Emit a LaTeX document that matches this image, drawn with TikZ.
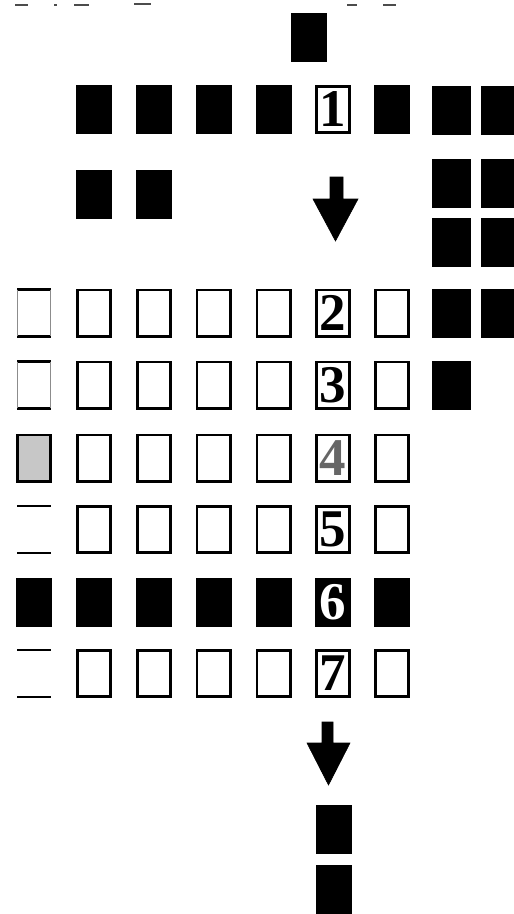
\documentclass[tikz,border=0pt]{standalone}
\usepackage{fontspec}
\setmainfont{Liberation Serif}
\begin{document}
\begin{tikzpicture}[x=1pt,y=-1pt,
  card/.style={draw=black, line width=2.6pt, fill=white, minimum width=33.4pt, minimum height=46.4pt, inner sep=0pt},
  dark/.style={card, fill=black},
  wide/.style={minimum width=36pt},
  grey/.style={card, fill=black!22},
  ghost/.style={minimum width=33.4pt, minimum height=46.4pt, inner sep=0pt},
  edge/.style={line width=2.6pt},
  faint/.style={line width=0.9pt, draw=black!45},
  numfont/.style={font=\bfseries\fontsize{53}{53}\selectfont},
  blockarrow/.style={fill=black, draw=black, line width=0.6pt, line join=miter},
  speck/.style={line width=1.2pt, draw=black!70}]
\useasboundingbox (0,0) rectangle (514,914);
% scan specks along the top edge
\draw[speck] (15,5) -- (28,5); \draw[speck] (54,5) -- (57,5);
\draw[speck] (74,5) -- (89,5); \draw[speck] (134,4) -- (151,4);
\draw[speck] (347,5) -- (357,5); \draw[speck] (383,5) -- (396,5);
% top card
\node[dark] (top) at (309,37.5) {};
% row 1
\node[dark] (a1) at (94,109.5) {};
\node[dark] (a2) at (154,109.5) {};
\node[dark] (a3) at (213.5,109.5) {};
\node[dark] (a4) at (273.5,109.5) {};
\node[card,numfont] (a5) at (333,109.5) {1};
\node[dark] (a6) at (392,109.5) {};
\node[dark,wide] (a7) at (451.5,110) {};
\node[dark,wide] (a8) at (500,110) {};
% two cards under row 1
\node[dark] (b1) at (94,194.5) {};
\node[dark] (b2) at (154,194.5) {};
% right stack
\node[dark,wide] (s1) at (451.5,183) {};
\node[dark,wide] (s2) at (500,183) {};
\node[dark,wide] (s3) at (451.5,242) {};
\node[dark,wide] (s4) at (500,242) {};
\node[dark,wide] (s5) at (451.5,313) {};
\node[dark,wide] (s6) at (500,313) {};
\node[dark,wide] (s7) at (451.5,385) {};
% first arrow
\path[blockarrow] (330,177) -- (343,177) -- (343,199) -- (358,199) -- (335.5,241) -- (313,199) -- (330,199) -- cycle;
% row 2
\node[ghost] (c0) at (34,313) {};
\draw[edge] (c0.north west) -- (c0.north east); \draw[edge] (c0.south west) -- (c0.south east);
\draw[faint] (c0.north west) -- (c0.south west); \draw[faint] (c0.north east) -- (c0.south east);
\node[card] (c1) at (94,313) {};
\node[card] (c2) at (154,313) {};
\node[card] (c3) at (213.5,313) {};
\node[card] (c4) at (273.5,313) {};
\node[card,numfont] (c5) at (333,313) {2};
\node[card] (c6) at (392,313) {};
% row 3
\node[ghost] (d0) at (34,385) {};
\draw[edge] (d0.north west) -- (d0.north east); \draw[edge] (d0.south west) -- (d0.south east);
\draw[faint] (d0.north west) -- (d0.south west); \draw[faint] (d0.north east) -- (d0.south east);
\node[card] (d1) at (94,385) {};
\node[card] (d2) at (154,385) {};
\node[card] (d3) at (213.5,385) {};
\node[card] (d4) at (273.5,385) {};
\node[card,numfont] (d5) at (333,385) {3};
\node[card] (d6) at (392,385) {};
% row 4
\node[grey] (e0) at (34,458) {};
\node[card] (e1) at (94,458) {};
\node[card] (e2) at (154,458) {};
\node[card] (e3) at (213.5,458) {};
\node[card] (e4) at (273.5,458) {};
\node[card,numfont,text=black!60] (e5) at (333,458) {4};
\node[card] (e6) at (392,458) {};
% row 5
\node[ghost] (f0) at (34,529.5) {};
\draw[edge] (f0.north west) -- (f0.north east); \draw[edge] (f0.south west) -- (f0.south east);
\node[card] (f1) at (94,529.5) {};
\node[card] (f2) at (154,529.5) {};
\node[card] (f3) at (213.5,529.5) {};
\node[card] (f4) at (273.5,529.5) {};
\node[card,numfont] (f5) at (333,529.5) {5};
\node[card] (f6) at (392,529.5) {};
% row 6
\node[dark] (g0) at (34,602) {};
\node[dark] (g1) at (94,602) {};
\node[dark] (g2) at (154,602) {};
\node[dark] (g3) at (213.5,602) {};
\node[dark] (g4) at (273.5,602) {};
\node[dark,numfont,text=white] (g5) at (333,602) {6};
\node[dark] (g6) at (392,602) {};
% row 7
\node[ghost] (h0) at (34,673.5) {};
\draw[edge] (h0.north west) -- (h0.north east); \draw[edge] (h0.south west) -- (h0.south east);
\node[card] (h1) at (94,673.5) {};
\node[card] (h2) at (154,673.5) {};
\node[card] (h3) at (213.5,673.5) {};
\node[card] (h4) at (273.5,673.5) {};
\node[card,numfont] (h5) at (333,673.5) {7};
\node[card] (h6) at (392,673.5) {};
% second arrow
\path[blockarrow] (322,722) -- (333,722) -- (333,743) -- (350,743) -- (328.5,785) -- (307,743) -- (322,743) -- cycle;
% bottom cards
\node[dark] (k1) at (333.5,829) {};
\node[dark] (k2) at (333.5,889) {};
\end{tikzpicture}
\end{document}
